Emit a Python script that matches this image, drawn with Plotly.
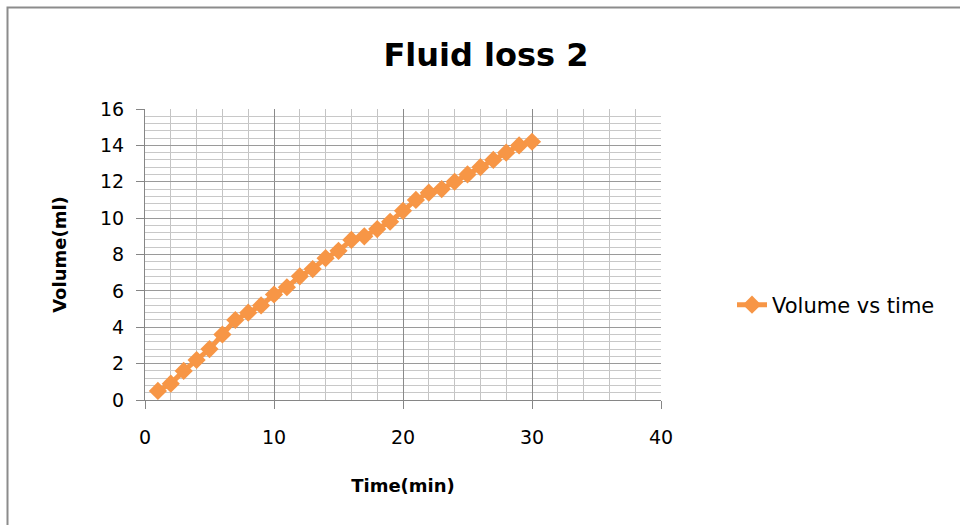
import plotly.graph_objects as go

# Data
time_min = list(range(1, 31))
volume_ml = [0.5, 0.9, 1.6, 2.2, 2.8, 3.6, 4.4, 4.8, 5.2, 5.8,
             6.2, 6.8, 7.2, 7.8, 8.2, 8.8, 9.0, 9.4, 9.8, 10.4,
             11.0, 11.4, 11.6, 12.0, 12.4, 12.8, 13.2, 13.6, 14.0, 14.2]
x_ticks = [0, 10, 20, 30, 40]
y_ticks = [0, 2, 4, 6, 8, 10, 12, 14, 16]

ORANGE = "#F79646"
FONT = "DejaVu Sans"

# plot area in pixels
L, R, T, B = 145, 661, 109, 400
W, H = 960, 525
pw, ph = R - L, B - T

fig = go.Figure()
fig.add_trace(go.Scatter(
    x=time_min, y=volume_ml, mode="lines+markers",
    name="Volume vs time",
    line=dict(color=ORANGE, width=5),
    marker=dict(symbol="diamond", size=14, color=ORANGE),
))

axis_common = dict(
    showline=True, linecolor="#868686", linewidth=1,
    ticks="outside", ticklen=8, tickcolor="#868686",
    tickfont=dict(family=FONT, size=19, color="#000000"),
    zeroline=False,
)

fig.update_layout(
    width=W, height=H,
    margin=dict(l=L, r=W - R, t=T, b=H - B),
    paper_bgcolor="white", plot_bgcolor="white",
    title=dict(text="<b>Fluid loss 2</b>", x=486 / W, xanchor="center",
               y=1 - 55 / H, yanchor="middle",
               font=dict(family=FONT, size=32, color="#000000")),
    xaxis=dict(range=[0, 40], tickvals=x_ticks, **axis_common,
               ticklabelstandoff=12,
               showgrid=True, gridcolor="#8a8a8a", gridwidth=1,
               minor=dict(dtick=2, showgrid=True, gridcolor="#c4c4c4", gridwidth=1),
               title=dict(text="<b>Time(min)</b>", standoff=32,
                          font=dict(family=FONT, size=18, color="#000000"))),
    yaxis=dict(range=[0, 16], tickvals=y_ticks, **axis_common,
               ticklabelstandoff=8,
               showgrid=True, gridcolor="#9a9a9a", gridwidth=1,
               minor=dict(dtick=0.4, showgrid=True, gridcolor="#c8c8c8", gridwidth=1),
               title=dict(text="<b>Volume(ml)</b>", standoff=28,
                          font=dict(family=FONT, size=18, color="#000000"))),
    showlegend=True,
    legend=dict(x=(732 - L) / pw, xanchor="left", y=(B - 305) / ph, yanchor="middle",
                font=dict(family=FONT, size=21, color="#000000"),
                bgcolor="rgba(0,0,0,0)"),
    shapes=[
        dict(type="rect", xref="paper", yref="paper",
             x0=(7.5 - L) / pw, x1=(1200 - L) / pw,
             y0=(B - 800) / ph, y1=(B - 7.5) / ph,
             line=dict(color="#8c8c8c", width=2), layer="below"),
    ],
)

fig.write_html("out.html")
